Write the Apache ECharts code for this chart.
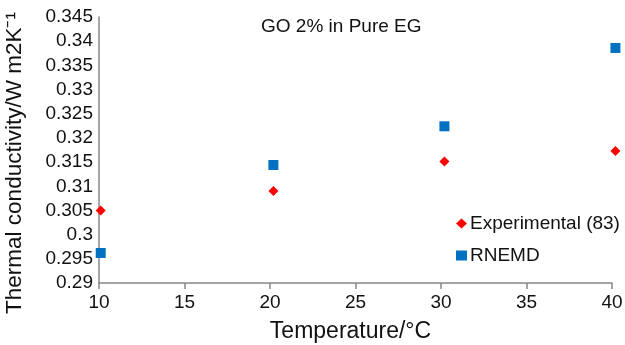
<!DOCTYPE html>
<html>
<head>
<meta charset="utf-8">
<script src="https://cdn.jsdelivr.net/npm/echarts@6/dist/echarts.min.js"></script>
<style>html,body{margin:0;padding:0;background:#fff;}#c{width:625px;height:345px;}</style>
</head>
<body>
<div id="c"></div>
<script>
const temperatures = [10.1, 20.2, 30.2, 40.2];
const experimental = [0.3050, 0.3090, 0.3151, 0.3173];
const rnemd = [0.2962, 0.3144, 0.3224, 0.3386];
const seriesNames = ['Experimental (83)', 'RNEMD'];

const font = '"Liberation Sans", Arial, Helvetica, sans-serif';
const chart = echarts.init(document.getElementById('c'));
chart.setOption({
  backgroundColor: '#fff',
  animation: false,
  title: {
    text: 'GO 2% in Pure EG',
    left: 256, top: 12,
    textStyle: { fontFamily: font, fontSize: 19, fontWeight: 'normal', color: '#111' }
  },
  legend: {
    orient: 'vertical',
    left: 451, top: 209,
    itemGap: 13,
    itemWidth: 11, itemHeight: 10,
    textStyle: { fontFamily: font, fontSize: 19, color: '#111', padding: [0,0,0,-2] },
    data: [
      { name: seriesNames[0], icon: 'diamond' },
      { name: seriesNames[1], icon: 'rect' }
    ]
  },
  grid: { left: 99, right: 13, top: 17, bottom: 62, outerBoundsMode: 'none', containLabel: false },
  xAxis: {
    type: 'value', min: 10, max: 40, interval: 5,
    name: 'Temperature/°C', nameLocation: 'middle', nameGap: 37,
    nameTextStyle: { fontFamily: font, fontSize: 23, color: '#111', padding: [0, 10, 0, 0] },
    axisLine: { lineStyle: { color: '#888', width: 1.5 } },
    axisTick: { show: true, length: 6, lineStyle: { color: '#888', width: 1.5 } },
    axisLabel: { fontFamily: font, fontSize: 19, color: '#111', margin: 10 },
    splitLine: { show: false }
  },
  yAxis: {
    type: 'value', min: 0.29, max: 0.345, interval: 0.005,
    name: 'Thermal conductivity/W m2K⁻¹', nameLocation: 'middle', nameGap: 73,
    nameTextStyle: { fontFamily: font, fontSize: 22.5, color: '#111', padding: [0, 26, 0, 0] },
    axisLine: { show: true, lineStyle: { color: '#888', width: 1.5 } },
    axisTick: { show: false },
    axisLabel: { fontFamily: font, fontSize: 19, color: '#111', margin: 6,
      formatter: v => parseFloat(v.toFixed(4)).toString() },
    splitLine: { show: false }
  },
  series: [
    {
      name: seriesNames[0], type: 'scatter', symbol: 'diamond', symbolSize: 10, clip: false,
      itemStyle: { color: '#ff0000', opacity: 1 },
      data: temperatures.map((t, i) => [t, experimental[i]])
    },
    {
      name: seriesNames[1], type: 'scatter', symbol: 'rect', symbolSize: 10, clip: false,
      itemStyle: { color: '#0070c0', opacity: 1 },
      data: temperatures.map((t, i) => [t, rnemd[i]])
    }
  ]
});
</script>
</body>
</html>
